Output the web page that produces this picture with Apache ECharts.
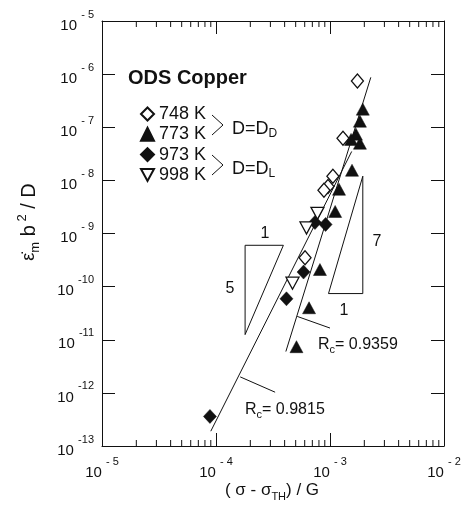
<!DOCTYPE html>
<html><head><meta charset="utf-8">
<script src="https://cdn.jsdelivr.net/npm/echarts@6/dist/echarts.min.js"></script>
<style>html,body{margin:0;padding:0;background:#fff}#c{width:466px;height:506px}</style>
</head><body><div id="c"></div>
<script>
// ---- data ----
const x748 = [1.74e-3, 1.30e-3, 1.06e-3, 9.6e-4, 8.85e-4, 6.04e-4];
const y748 = [7.4e-7, 6.2e-8, 1.19e-8, 7.7e-9, 6.5e-9, 3.5e-10];
const x773 = [1.94e-3, 1.83e-3, 1.69e-3, 1.53e-3, 1.83e-3, 1.56e-3, 1.20e-3, 1.11e-3, 8.16e-4, 6.55e-4, 5.08e-4];
const y773 = [2.19e-7, 1.30e-7, 7.4e-8, 5.9e-8, 5.0e-8, 1.55e-8, 6.8e-9, 2.6e-9, 2.1e-10, 4.0e-11, 7.4e-12];
const x973 = [9.15e-4, 7.38e-4, 5.86e-4, 4.15e-4, 8.85e-5];
const y973 = [1.48e-9, 1.61e-9, 1.88e-10, 5.9e-11, 3.6e-13];
const x998 = [7.76e-4, 6.22e-4, 4.69e-4];
const y998 = [2.4e-9, 1.27e-9, 1.16e-10];
// fitted lines
const fitAx = [9.0e-5, 1.55e-3], fitAy = [1.9e-13, 3.5e-8];   // Rc = 0.9815
const fitBx = [4.1e-4, 2.28e-3], fitBy = [6.0e-12, 8.7e-7];   // Rc = 0.9359
// slope triangles
const tri5x = [1.8e-4, 3.9e-4, 1.8e-4, 1.8e-4], tri5y = [6e-10, 6e-10, 1.25e-11, 6e-10];
const tri7x = [1.94e-3, 9.7e-4, 1.94e-3, 1.94e-3], tri7y = [1.2e-8, 7.4e-11, 7.4e-11, 1.2e-8];
// leader lines
const leadAx = [1.63e-4, 3.3e-4], leadAy = [2.0e-12, 1.03e-12];
const leadBx = [5.16e-4, 1.0e-3], leadBy = [2.75e-11, 1.66e-11];
// axis ranges / ticks
const xMin = 1e-5, xMax = 1e-2, yMin = 1e-13, yMax = 1e-5;
const minorX = [2e-5,3e-5,4e-5,5e-5,6e-5,7e-5,8e-5,9e-5,
                2e-4,3e-4,4e-4,5e-4,6e-4,7e-4,8e-4,9e-4,
                2e-3,3e-3,4e-3,5e-3,6e-3,7e-3,8e-3,9e-3];
const names = ['748 K','773 K','973 K','998 K'];

const FONT = '"Liberation Sans", Arial, Helvetica, sans-serif';
const INK = '#111';
const zip = (a, b) => a.map((v, i) => [v, b[i]]);

function expLabel(v) {
  const e = Math.round(Math.log10(v));
  const s = e <= -10 ? String(e) : '- ' + Math.abs(e);
  return '{b|10 }{s|' + s + '}';
}
const labRich = {
  b: {fontSize: 15, fontFamily: FONT, color: INK, lineHeight: 24, verticalAlign: 'bottom'},
  s: {fontSize: 11, fontFamily: FONT, color: INK, lineHeight: 12, verticalAlign: 'top'}
};

const axisCommon = {
  type: 'log', logBase: 10,
  axisLine: {show: true, onZero: false, lineStyle: {color: INK, width: 1}},
  axisTick: {show: true, inside: true, length: 13, lineStyle: {color: INK, width: 1}},
  splitLine: {show: false},
  minorTick: {show: false}
};

const lineStyleSeries = (xs, ys) => ({
  type: 'line', data: zip(xs, ys), symbol: 'none', silent: true,
  lineStyle: {color: INK, width: 1}, z: 2, animation: false
});

const chart = echarts.init(document.getElementById('c'), null, {renderer: 'canvas'});
chart.setOption({
  animation: false,
  backgroundColor: '#fff',
  grid: {left: 102, right: 22, top: 21, bottom: 60, containLabel: false},
  xAxis: [
    Object.assign({}, axisCommon, {position: 'bottom', min: xMin, max: xMax, splitNumber: 3,
      axisLabel: {show: true, margin: 10, formatter: expLabel, rich: labRich}}),
    Object.assign({}, axisCommon, {position: 'top', min: xMin, max: xMax, splitNumber: 3,
      axisLabel: {show: false}})
  ],
  yAxis: [
    Object.assign({}, axisCommon, {position: 'left', min: yMin, max: yMax, splitNumber: 8,
      axisLabel: {show: true, margin: 8, formatter: expLabel, rich: labRich}}),
    Object.assign({}, axisCommon, {position: 'right', min: yMin, max: yMax, splitNumber: 8,
      axisLabel: {show: false}})
  ],
  legend: {
    orient: 'vertical', left: 140, top: 105, padding: 0, itemWidth: 13, itemHeight: 13, itemGap: 2.3,
    selectedMode: false,
    data: [
      {name: names[0]}, {name: names[1]}, {name: names[2]},
      {name: names[3], icon: 'path://M0,0 L12,0 L6,11 Z'}
    ],
    textStyle: {fontSize: 18, fontFamily: FONT, color: INK}
  },
  series: [
    lineStyleSeries(fitAx, fitAy),
    lineStyleSeries(fitBx, fitBy),
    lineStyleSeries(tri5x, tri5y),
    lineStyleSeries(tri7x, tri7y),
    lineStyleSeries(leadAx, leadAy),
    lineStyleSeries(leadBx, leadBy),
    {
      type: 'custom', silent: true, clip: false, z: 5,
      data: minorX.map(v => [v, 1e-9]),
      renderItem: function (params, api) {
        const p = api.coord([api.value(0), api.value(1)]);
        const cs = params.coordSys;
        const b = cs.y + cs.height, t = cs.y;
        return {type: 'group', children: [
          {type: 'line', shape: {x1: p[0], y1: b, x2: p[0], y2: b - 6}, style: {stroke: INK, lineWidth: 1}},
          {type: 'line', shape: {x1: p[0], y1: t, x2: p[0], y2: t + 6}, style: {stroke: INK, lineWidth: 1}}
        ]};
      }
    },
    {name: names[0], type: 'scatter', data: zip(x748, y748), symbol: 'diamond', symbolSize: [12, 14], z: 4,
      itemStyle: {color: '#fff', borderColor: INK, borderWidth: 1.3, opacity: 1}},
    {name: names[1], type: 'scatter', data: zip(x773, y773), symbol: 'triangle', symbolSize: [13, 12], z: 4,
      itemStyle: {color: INK, borderColor: INK, borderWidth: 0.5, opacity: 1}},
    {name: names[2], type: 'scatter', data: zip(x973, y973), symbol: 'diamond', symbolSize: [13, 14], z: 4,
      itemStyle: {color: INK, borderColor: INK, borderWidth: 0.5, opacity: 1}},
    {name: names[3], type: 'scatter', data: zip(x998, y998), symbol: 'triangle', symbolRotate: 180, symbolSize: [13, 12], z: 4,
      itemStyle: {color: '#fff', borderColor: INK, borderWidth: 1.3, opacity: 1}}
  ],
  graphic: [
    {type: 'text', x: 128, y: 78, style: {text: 'ODS Copper', font: 'bold 20px ' + FONT, fill: INK, align: 'left', verticalAlign: 'middle'}},
    {type: 'polyline', shape: {points: [[212, 115], [223, 125], [212, 135]]}, style: {stroke: INK, lineWidth: 1, fill: null}},
    {type: 'polyline', shape: {points: [[212, 155], [223, 165], [212, 175]]}, style: {stroke: INK, lineWidth: 1, fill: null}},
    {type: 'text', x: 232, y: 130, style: {text: '{m|D=D}{d|D}', align: 'left', verticalAlign: 'middle',
      rich: {m: {fontSize: 18, fontFamily: FONT, fill: INK, lineHeight: 20, verticalAlign: 'top'},
             d: {fontSize: 12, fontFamily: FONT, fill: INK, lineHeight: 10, verticalAlign: 'bottom'}}}},
    {type: 'text', x: 232, y: 170, style: {text: '{m|D=D}{d|L}', align: 'left', verticalAlign: 'middle',
      rich: {m: {fontSize: 18, fontFamily: FONT, fill: INK, lineHeight: 20, verticalAlign: 'top'},
             d: {fontSize: 12, fontFamily: FONT, fill: INK, lineHeight: 10, verticalAlign: 'bottom'}}}},
    {type: 'text', x: 318, y: 346, style: {text: '{m|R}{d|c}{m|= 0.9359}', align: 'left', verticalAlign: 'middle',
      rich: {m: {fontSize: 16, fontFamily: FONT, fill: INK, lineHeight: 18, verticalAlign: 'top'},
             d: {fontSize: 11, fontFamily: FONT, fill: INK, lineHeight: 8, verticalAlign: 'bottom'}}}},
    {type: 'text', x: 245, y: 411, style: {text: '{m|R}{d|c}{m|= 0.9815}', align: 'left', verticalAlign: 'middle',
      rich: {m: {fontSize: 16, fontFamily: FONT, fill: INK, lineHeight: 18, verticalAlign: 'top'},
             d: {fontSize: 11, fontFamily: FONT, fill: INK, lineHeight: 8, verticalAlign: 'bottom'}}}},
    {type: 'text', x: 265, y: 234, style: {text: '1', font: '16px ' + FONT, fill: INK, align: 'center', verticalAlign: 'middle'}},
    {type: 'text', x: 230, y: 289, style: {text: '5', font: '16px ' + FONT, fill: INK, align: 'center', verticalAlign: 'middle'}},
    {type: 'text', x: 377, y: 242, style: {text: '7', font: '16px ' + FONT, fill: INK, align: 'center', verticalAlign: 'middle'}},
    {type: 'text', x: 344, y: 311, style: {text: '1', font: '16px ' + FONT, fill: INK, align: 'center', verticalAlign: 'middle'}},
    {type: 'text', x: 272, y: 492, style: {text: '{m|( σ - σ}{d|TH}{m|) / G}', align: 'center', verticalAlign: 'middle',
      rich: {m: {fontSize: 17, fontFamily: FONT, fill: INK, lineHeight: 20, verticalAlign: 'top'},
             d: {fontSize: 11, fontFamily: FONT, fill: INK, lineHeight: 9, verticalAlign: 'bottom'}}}},
    {type: 'text', x: 29, y: 222, rotation: Math.PI / 2, style: {text: '{e|ε̇}{d|m}{m| b}{u| 2}{m| / D}', align: 'center', verticalAlign: 'middle',
      rich: {m: {fontSize: 20, fontFamily: FONT, fill: INK, lineHeight: 26, verticalAlign: 'middle'},
             e: {fontSize: 18, fontFamily: FONT, fill: INK, lineHeight: 26, verticalAlign: 'middle'},
             d: {fontSize: 13, fontFamily: FONT, fill: INK, lineHeight: 8, verticalAlign: 'bottom'},
             u: {fontSize: 13, fontFamily: FONT, fill: INK, lineHeight: 8, verticalAlign: 'top'}}}}
  ]
});
</script></body></html>
